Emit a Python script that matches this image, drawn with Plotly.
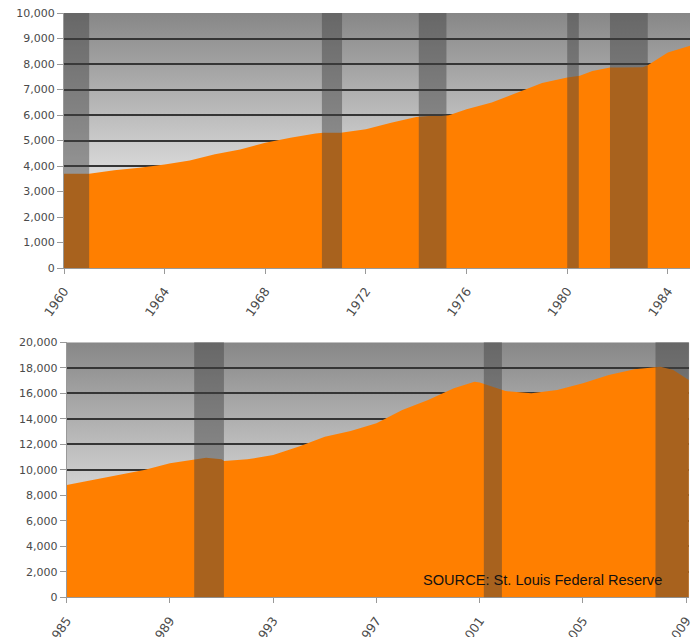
import base64
import plotly.graph_objects as go

# ---- data ----
years_a = [1960, 1961, 1962, 1963, 1964, 1965, 1966, 1967, 1968, 1969, 1970, 1970.3,
           1971, 1971.5, 1972, 1973, 1974, 1974.5, 1975, 1975.3, 1976, 1977, 1978,
           1979, 1980, 1980.5, 1981, 1981.7, 1982, 1983, 1983.2, 1984, 1984.88]
values_a = [3700, 3700, 3830, 3930, 4060, 4220, 4460, 4650, 4910, 5110, 5270, 5300,
            5300, 5370, 5440, 5700, 5920, 5960, 5960, 5990, 6230, 6490, 6880,
            7250, 7470, 7540, 7730, 7860, 7860, 7870, 7950, 8450, 8720]

years_b = [1985, 1986, 1987, 1988, 1989, 1990, 1990.4, 1991, 1991.1, 1992, 1993, 1994,
           1995, 1996, 1997, 1998, 1999, 2000, 2000.8, 2001, 2001.5, 2002, 2003, 2004,
           2005, 2006, 2007, 2007.8, 2008, 2008.5, 2009, 2009.1]
values_b = [8800, 9200, 9540, 9990, 10510, 10820, 10950, 10820, 10690, 10820, 11160, 11820,
            12600, 13050, 13650, 14690, 15480, 16390, 16910, 16840, 16520, 16180, 16000, 16260,
            16780, 17440, 17880, 18090, 18090, 17830, 17180, 17050]

recessions_a = [(1960.0, 1961.0), (1970.25, 1971.05), (1974.1, 1975.2),
                (1980.0, 1980.46), (1981.7, 1983.2)]
recessions_b = [(1989.94, 1991.09), (2001.16, 2001.86), (2007.81, 2009.1)]

xticks_a = [1960, 1964, 1968, 1972, 1976, 1980, 1984]
xticks_b = [1985, 1989, 1993, 1997, 2001, 2005, 2009]
source_text = "SOURCE: St. Louis Federal Reserve"

# ---- styling ----
ORANGE = "#ff7f00"
SHADE = "rgba(66,66,66,0.46)"
W, H = 694, 637

svg = ('<svg xmlns="http://www.w3.org/2000/svg" width="10" height="100" preserveAspectRatio="none">'
       '<defs><linearGradient id="g" x1="0" y1="0" x2="0" y2="1">'
       '<stop offset="0" stop-color="#878787"/><stop offset="0.7" stop-color="#e4e4e4"/>'
       '<stop offset="1" stop-color="#f4f4f4"/>'
       '</linearGradient></defs><rect width="10" height="100" fill="url(#g)"/></svg>')
grad_uri = "data:image/svg+xml;base64," + base64.b64encode(svg.encode()).decode()

fig = go.Figure()
fig.add_trace(go.Scatter(x=years_a, y=values_a, mode="lines", fill="tozeroy",
                         fillcolor=ORANGE, line=dict(width=0, color=ORANGE),
                         xaxis="x", yaxis="y", showlegend=False, hoverinfo="skip"))
fig.add_trace(go.Scatter(x=years_b, y=values_b, mode="lines", fill="tozeroy",
                         fillcolor=ORANGE, line=dict(width=0, color=ORANGE),
                         xaxis="x2", yaxis="y2", showlegend=False, hoverinfo="skip"))

shapes = []
for (s, e) in recessions_a:
    shapes.append(dict(type="rect", xref="x", yref="y domain", x0=s, x1=e, y0=0, y1=1,
                       fillcolor=SHADE, line=dict(width=0), layer="above"))
for (s, e) in recessions_b:
    shapes.append(dict(type="rect", xref="x2", yref="y2 domain", x0=s, x1=e, y0=0, y1=1,
                       fillcolor=SHADE, line=dict(width=0), layer="above"))

images = []
for xr, yr in (("x domain", "y domain"), ("x2 domain", "y2 domain")):
    images.append(dict(source=grad_uri, xref=xr, yref=yr, x=0, y=1, sizex=1, sizey=1,
                       xanchor="left", yanchor="top", sizing="stretch", layer="below"))

yfont = dict(family="DejaVu Sans, Verdana, sans-serif", size=11, color="#4a4a4a")
xfont = dict(family="DejaVu Sans, Verdana, sans-serif", size=12.5, color="#4a4a4a")
common_x = dict(tickmode="array", tickangle=-55, ticks="outside", ticklen=5, tickcolor="#999",
                ticklabelstandoff=5,
                showgrid=False, showline=True, linecolor="#999", linewidth=1,
                tickfont=xfont, automargin=False, zeroline=False, fixedrange=True)
common_y = dict(ticks="outside", ticklen=6, tickcolor="#999", showline=True, linecolor="#999",
                linewidth=1, showgrid=True, gridcolor="#353535", gridwidth=1.6,
                tickformat=",d", tickfont=yfont, automargin=False, zeroline=False,
                fixedrange=True)

fig.update_layout(
    width=W, height=H,
    margin=dict(l=0, r=0, t=0, b=0),
    paper_bgcolor="white", plot_bgcolor="rgba(0,0,0,0)",
    template="none",
    showlegend=False,
    xaxis=dict(domain=[64 / W, 690 / W], range=[1960, 1984.88], tickvals=xticks_a,
               anchor="y", **common_x),
    yaxis=dict(domain=[1 - 268 / H, 1 - 13 / H], range=[0, 10000], dtick=1000,
               anchor="x", **common_y),
    xaxis2=dict(domain=[66.7 / W, 689.3 / W], range=[1985, 2009.12], tickvals=xticks_b,
                anchor="y2", **common_x),
    yaxis2=dict(domain=[1 - 597.3 / H, 1 - 342.3 / H], range=[0, 20000], dtick=2000,
                anchor="x2", **common_y),
    shapes=shapes,
    images=images,
    annotations=[dict(text=source_text, xref="paper", yref="paper", x=664 / W, y=1 - 580 / H,
                      xanchor="right", yanchor="middle", showarrow=False,
                      font=dict(family="Liberation Sans, Arial, sans-serif", size=14.6,
                                color="#111"))],
)

fig.write_html("out.html")
